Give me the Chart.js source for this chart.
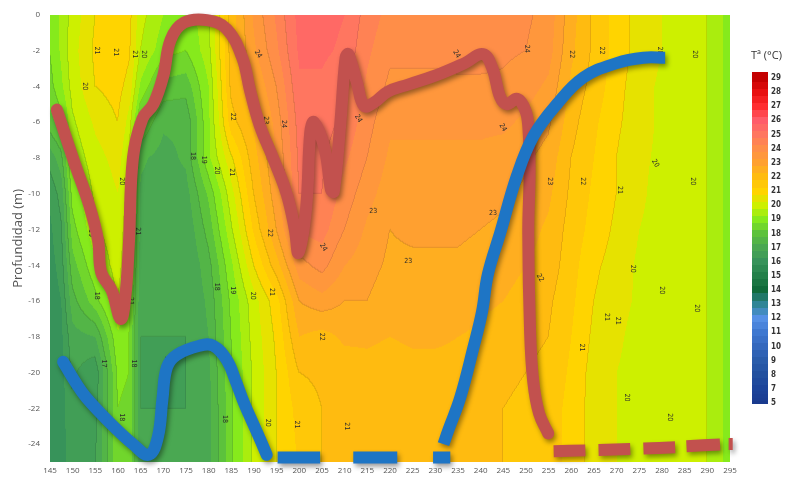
<!DOCTYPE html>
<html>
<head>
<meta charset="utf-8">
<script src="https://cdn.jsdelivr.net/npm/chart.js@4/dist/chart.umd.min.js"></script>
<style>
  html, body { margin: 0; padding: 0; background: #fff; }
  #c { display: block; }
</style>
</head>
<body>
<canvas id="c" width="789" height="480"></canvas>
<script>
// ---- Temperature section: sampling days (x) and depths (y) ----
const fieldDays = [145, 147.5, 150, 155, 160, 162.5, 165, 170, 175, 180, 185, 190, 195, 200, 205, 210,
                   215, 220, 225, 230, 235, 240, 245, 250, 255, 260, 265, 270, 275, 280, 285, 290, 292.5, 295];
const fieldDepths = [0, -2, -4, -6, -8, -10, -12, -14, -16, -18, -20, -22, -24];

// Temperature (°C) per sampling day, from surface (0 m) to -24 m
const temperatureByDay = [
  [19.0, 19.0, 18.8, 18.3, 17.2, 16.6, 16.4, 16.3, 16.2, 16.2, 16.1, 16.1, 16.1], // 145
  [19.6, 19.6, 19.4, 18.8, 17.8, 17.2, 16.9, 16.7, 16.5, 16.4, 16.3, 16.3, 16.3], // 147.5
  [20.2, 20.3, 20.2, 19.9, 19.6, 19.2, 18.8, 18.3, 17.8, 17.3, 17.1, 16.9, 16.8], // 150
  [21.0, 21.1, 21.0, 20.6, 20.3, 20.1, 19.9, 19.4, 18.8, 17.5, 16.6, 16.8, 16.9], // 155
  [21.3, 21.4, 21.2, 21.0, 20.7, 20.5, 20.4, 20.3, 20.0, 19.4, 19.1, 19.0, 18.9], // 160
  [21.2, 21.1, 20.8, 20.3, 20.0, 19.8, 19.6, 19.4, 19.2, 19.0, 19.0, 18.9, 18.9], // 162.5
  [20.2, 20.0, 19.4, 18.5, 17.6, 17.4, 17.3, 17.2, 17.1, 17.0, 17.0, 17.0, 17.0], // 165
  [19.5, 19.2, 18.3, 17.6, 17.3, 17.2, 17.1, 17.0, 17.0, 17.0, 16.6, 17.0, 17.0], // 170
  [19.2, 19.0, 18.2, 17.6, 17.6, 17.3, 17.1, 17.0, 17.0, 17.0, 17.0, 17.0, 17.0], // 175
  [19.9, 19.8, 19.5, 19.4, 19.4, 18.6, 18.2, 17.8, 17.6, 17.5, 17.4, 17.3, 17.3], // 180
  [22.2, 22.2, 22.1, 21.8, 20.9, 20.3, 19.9, 19.4, 19.1, 19.0, 18.9, 18.9, 18.9], // 185
  [23.6, 23.4, 23.0, 22.6, 22.3, 22.0, 21.6, 21.0, 20.3, 20.2, 20.1, 20.1, 20.1], // 190
  [24.6, 24.4, 24.0, 23.7, 23.5, 23.3, 23.0, 22.3, 21.3, 21.1, 21.0, 21.0, 21.0], // 195
  [25.7, 25.6, 25.4, 25.2, 25.1, 25.0, 24.6, 23.8, 23.0, 22.5, 22.0, 21.7, 21.6], // 200
  [25.7, 25.6, 25.4, 25.2, 25.1, 25.0, 24.7, 24.2, 23.3, 22.3, 22.1, 22.0, 22.0], // 205
  [25.5, 25.4, 25.1, 24.9, 24.6, 24.3, 24.0, 23.5, 23.0, 22.6, 22.2, 22.1, 22.0], // 210
  [24.8, 24.6, 24.4, 24.2, 24.0, 23.7, 23.4, 23.2, 23.0, 22.6, 22.3, 22.2, 22.1], // 215
  [24.3, 24.1, 23.9, 23.6, 23.4, 23.2, 23.0, 22.9, 22.7, 22.5, 22.2, 22.1, 22.1], // 220
  [24.2, 24.1, 23.9, 23.6, 23.4, 23.2, 23.1, 22.9, 22.8, 22.6, 22.3, 22.1, 22.1], // 225
  [24.3, 24.1, 23.9, 23.6, 23.4, 23.2, 23.1, 22.9, 22.8, 22.6, 22.3, 22.2, 22.1], // 230
  [24.3, 24.2, 23.9, 23.6, 23.4, 23.2, 23.1, 22.9, 22.8, 22.5, 22.3, 22.1, 22.1], // 235
  [24.3, 24.2, 23.9, 23.6, 23.4, 23.2, 23.0, 22.8, 22.6, 22.4, 22.2, 22.1, 22.0], // 240
  [24.2, 24.1, 23.9, 23.6, 23.3, 23.1, 22.9, 22.7, 22.5, 22.3, 22.1, 22.0, 22.0], // 245
  [24.1, 24.0, 23.7, 23.4, 23.1, 22.9, 22.7, 22.5, 22.3, 22.1, 22.0, 21.9, 21.9], // 250
  [23.8, 23.7, 23.4, 23.1, 22.8, 22.6, 22.4, 22.3, 22.1, 22.0, 21.9, 21.8, 21.8], // 255
  [22.7, 22.6, 22.4, 22.2, 22.0, 21.9, 21.8, 21.7, 21.6, 21.5, 21.4, 21.3, 21.3], // 260
  [21.9, 21.9, 21.8, 21.6, 21.5, 21.4, 21.3, 21.1, 21.0, 20.9, 20.8, 20.8, 20.8], // 265
  [21.3, 21.3, 21.2, 21.1, 21.0, 21.0, 20.9, 20.8, 20.7, 20.6, 20.5, 20.5, 20.5], // 270
  [20.8, 20.8, 20.7, 20.7, 20.6, 20.6, 20.5, 20.4, 20.4, 20.3, 20.3, 20.3, 20.3], // 275
  [20.5, 20.5, 20.4, 20.4, 20.4, 20.3, 20.3, 20.2, 20.2, 20.2, 20.2, 20.2, 20.2], // 280
  [20.3, 20.3, 20.2, 20.2, 20.2, 20.2, 20.1, 20.1, 20.1, 20.1, 20.1, 20.1, 20.1], // 285
  [20.0, 20.0, 20.0, 20.0, 20.0, 20.0, 20.0, 20.0, 20.0, 20.0, 20.0, 20.0, 20.0], // 290
  [19.8, 19.8, 19.8, 19.8, 19.8, 19.8, 19.8, 19.8, 19.8, 19.8, 19.8, 19.8, 19.8], // 292.5
  [19.0, 19.0, 19.0, 19.0, 19.0, 19.0, 19.0, 19.0, 19.0, 19.0, 19.0, 19.0, 19.0]  // 295
];

// ---- Axis ticks ----
const dayTicks = [145,150,155,160,165,170,175,180,185,190,195,200,205,210,215,220,225,230,235,240,
                  245,250,255,260,265,270,275,280,285,290,295];
const depthTicks = [0,-2,-4,-6,-8,-10,-12,-14,-16,-18,-20,-22,-24];

// ---- Colour scale levels (°C) ----
const scaleLevels = [29,28,27,26,25,24,23,22,21,20,19,18,17,16,15,14,13,12,11,10,9,8,7,5];

// ---- Red trace (day, depth) ----
const redTrace = [
  [146.5,-5.3],[150.3,-8.2],[153.6,-10.6],[155.6,-12.6],[156.3,-14.4],[158.6,-15.4],[160.6,-17.0],
  [161.6,-15.8],[162.4,-12.8],[163.3,-8.0],[165.4,-5.8],[167.8,-5.0],[170.0,-3.4],[171.6,-1.4],
  [174.5,-0.45],[179.6,-0.3],[184.0,-0.8],[187.4,-2.4],[189.2,-4.3],[191.3,-6.2],[194.2,-8.0],
  [197.2,-10.0],[199.0,-12.0],[199.8,-13.3],[201.5,-10.8],[202.4,-6.6],[203.2,-6.0],[205.6,-7.5],
  [207.0,-9.8],[207.6,-9.9],[209.0,-6.2],[210.2,-2.4],[210.8,-2.2],[212.7,-3.8],[214.3,-5.1],
  [216.5,-4.9],[219.5,-4.3],[224.0,-3.9],[231.0,-3.3],[236.5,-2.7],[240.5,-2.2],[242.6,-3.0],
  [244.3,-4.6],[245.8,-5.0],[248.0,-4.7],[249.8,-5.3],[250.5,-6.2],[250.8,-8.7],[250.5,-12.2],
  [250.9,-17.7],[251.6,-20.5],[252.9,-22.3],[254.9,-23.4]
];
// Red trace near the bottom (separate short segments)
const redBottom = [
  [[256.1,-24.4],[263.1,-24.35]],
  [[266.0,-24.33],[273.0,-24.28]],
  [[275.9,-24.25],[282.9,-24.18]],
  [[285.4,-24.12],[292.8,-24.02]],
  [[294.7,-24.0],[295.6,-24.0]]
];

// ---- Blue trace (day, depth) ----
const blueTraceA = [
  [147.9,-19.4],[150.5,-20.5],[153.0,-21.4],[158.2,-22.8],[163.3,-24.0],[166.8,-24.6],[168.8,-23.6],
  [169.8,-21.5],[170.8,-19.7],[173.0,-19.0],[178.0,-18.5],[181.0,-18.5],[184.0,-19.3],[186.0,-20.5],
  [187.8,-21.7],[190.6,-23.3],[192.8,-24.6]
];
const blueBottom = [
  [[195.2,-24.75],[204.6,-24.75]],
  [[211.9,-24.75],[221.6,-24.75]],
  [[229.5,-24.75],[233.3,-24.75]]
];
const blueTraceB = [
  [231.8,-24.0],[232.9,-23.2],[235.5,-21.4],[238.4,-18.6],[240.3,-16.6],[241.6,-14.5],[244.3,-12.2],
  [248.0,-9.0],[251.6,-6.8],[256.8,-5.0],[262.7,-3.5],[270.0,-2.7],[275.9,-2.4],[280.7,-2.4]
];

// ---- Isotherm labels: day, depth, text, angle (deg) ----
const isothermLabels = [
  [152.6,-4.0,'20',90],[155.3,-2.0,'21',90],[159.5,-2.1,'21',90],[163.6,-2.2,'21',90],[165.6,-2.2,'20',90],
  [160.8,-9.3,'20',90],[164.4,-12.1,'21',90],[154.0,-12.2,'19',90],
  [176.6,-7.9,'18',90],[179.0,-8.1,'19',90],[181.8,-8.7,'20',90],[185.1,-8.8,'21',90],
  [185.4,-5.7,'22',90],[192.6,-5.9,'23',90],[196.5,-6.1,'24',90],[190.9,-2.2,'24',60],
  [193.5,-12.2,'22',90],[213.0,-5.8,'24',60],[216.3,-11.0,'23',0],[205.3,-13.0,'24',60],
  [155.3,-15.7,'18',90],[162.8,-16.0,'21',90],[156.8,-19.5,'17',90],[163.4,-19.5,'18',90],
  [170.7,-19.3,'17',90],[160.8,-22.5,'18',90],
  [181.8,-15.2,'18',90],[185.4,-15.4,'19',90],[189.8,-15.7,'20',90],[193.9,-15.5,'21',90],
  [204.9,-18.0,'22',90],[183.6,-22.6,'18',90],[193.1,-22.8,'20',90],[199.4,-22.9,'21',90],[210.5,-23.0,'21',90],
  [224.0,-13.8,'23',0],[242.7,-11.1,'23',0],
  [234.7,-2.2,'24',60],[250.2,-1.9,'24',90],[260.2,-2.2,'22',90],[266.8,-2.0,'22',90],
  [279.6,-2.0,'20',90],[287.3,-2.2,'20',90],[244.9,-6.3,'24',60],
  [255.3,-9.3,'23',90],[262.6,-9.3,'22',90],[270.7,-9.8,'21',90],[278.5,-8.3,'20',60],[286.8,-9.3,'20',90],
  [253.1,-14.7,'22',60],[262.3,-18.6,'21',90],[267.8,-16.9,'21',90],[270.3,-17.1,'21',90],
  [273.6,-14.2,'20',90],[279.9,-15.4,'20',90],[287.7,-16.4,'20',90],[272.2,-21.4,'20',90],[281.8,-22.5,'20',90]
];

// ---- Colour ramp (°C -> colour) ----
const ramp = [
  [5,'#1a3a8e'],[7,'#1c449a'],[8,'#22509f'],[9,'#2a5caa'],[10,'#3468bd'],[11,'#3f78d0'],[12,'#5590e5'],
  [13,'#2f8596'],[14,'#106b3a'],[15,'#23804a'],[16,'#37935a'],[17,'#4aa852'],[18,'#5cc23c'],
  [19,'#86ea1c'],[20,'#cdf000'],[21,'#ffd400'],[22,'#ffbb10'],[23,'#ffa030'],[24,'#ff8e48'],
  [25,'#ff7660'],[26,'#ff5c6a'],[27,'#ff2e30'],[28,'#e81010'],[29,'#c40000']
];
function hexRgb(h) { return [parseInt(h.slice(1,3),16), parseInt(h.slice(3,5),16), parseInt(h.slice(5,7),16)]; }
const rampRgb = ramp.map(([v, h]) => [v, hexRgb(h)]);
function rampColor(v) {
  if (v <= rampRgb[0][0]) return rampRgb[0][1];
  const last = rampRgb[rampRgb.length - 1];
  if (v >= last[0]) return last[1];
  for (let k = 0; k < rampRgb.length - 1; k++) {
    const [v0, c0] = rampRgb[k], [v1, c1] = rampRgb[k + 1];
    if (v >= v0 && v <= v1) {
      const f = (v - v0) / (v1 - v0);
      return [0,1,2].map(n => Math.round(c0[n] + (c1[n] - c0[n]) * f));
    }
  }
  return last[1];
}
// filled-contour colour: half-degree bands
function bandColor(t) { return rampColor(Math.floor(t * 2) / 2); }

function fieldValue(day, depth) {
  let i = 0;
  while (i < fieldDays.length - 2 && day > fieldDays[i + 1]) i++;
  let fx = (day - fieldDays[i]) / (fieldDays[i + 1] - fieldDays[i]);
  fx = Math.max(0, Math.min(1, fx));
  let j = 0;
  while (j < fieldDepths.length - 2 && depth < fieldDepths[j + 1]) j++;
  let fy = (depth - fieldDepths[j]) / (fieldDepths[j + 1] - fieldDepths[j]);
  fy = Math.max(0, Math.min(1, fy));
  const a = temperatureByDay[i][j], b = temperatureByDay[i + 1][j];
  const c = temperatureByDay[i][j + 1], e = temperatureByDay[i + 1][j + 1];
  return a * (1 - fx) * (1 - fy) + b * fx * (1 - fy) + c * (1 - fx) * fy + e * fx * fy;
}

// Filled isotherm section behind the traces
const sectionPlugin = {
  id: 'section',
  beforeDatasetsDraw(chart) {
    const { ctx, chartArea: area, scales: { x, y } } = chart;
    const w = Math.round(area.right - area.left), h = Math.round(area.bottom - area.top);
    const T = new Float32Array(w * h);
    for (let j = 0; j < h; j++) {
      const depth = y.getValueForPixel(area.top + j + 0.5);
      for (let i = 0; i < w; i++) {
        T[j * w + i] = fieldValue(x.getValueForPixel(area.left + i + 0.5), depth);
      }
    }
    const off = document.createElement('canvas');
    off.width = w; off.height = h;
    const octx = off.getContext('2d');
    const img = octx.createImageData(w, h);
    for (let j = 0; j < h; j++) {
      for (let i = 0; i < w; i++) {
        const k = j * w + i, t = T[k];
        const col = bandColor(t);
        const b = Math.floor(t);
        let edge = false;
        if (i < w - 1 && Math.floor(T[k + 1]) !== b) edge = true;
        if (j < h - 1 && Math.floor(T[k + w]) !== b) edge = true;
        const f = edge ? 0.9 : 1;
        img.data[k * 4] = col[0] * f;
        img.data[k * 4 + 1] = col[1] * f;
        img.data[k * 4 + 2] = col[2] * f;
        img.data[k * 4 + 3] = 255;
      }
    }
    octx.putImageData(img, 0, 0);
    ctx.save();
    ctx.filter = 'blur(0.7px)';
    ctx.drawImage(off, area.left, area.top);
    ctx.restore();

    // isotherm labels
    ctx.save();
    ctx.fillStyle = '#2b2b2b';
    ctx.font = '7px "DejaVu Sans Condensed", "DejaVu Sans", sans-serif';
    ctx.textAlign = 'center';
    ctx.textBaseline = 'middle';
    isothermLabels.forEach(([d, z, txt, ang]) => {
      ctx.save();
      ctx.translate(x.getPixelForValue(d), y.getPixelForValue(z));
      ctx.rotate(ang * Math.PI / 180);
      ctx.fillText(txt, 0, 0);
      ctx.restore();
    });
    ctx.restore();
  }
};

// Soft drop shadow under the traces
const shadowPlugin = {
  id: 'traceShadow',
  beforeDatasetDraw(chart) {
    const c = chart.ctx;
    c.save();
    c.shadowColor = 'rgba(0,0,0,0.4)';
    c.shadowBlur = 5;
    c.shadowOffsetX = 2;
    c.shadowOffsetY = 3;
  },
  afterDatasetDraw(chart) { chart.ctx.restore(); }
};

// Colour bar with its title
const colorbarPlugin = {
  id: 'colorbar',
  afterDraw(chart) {
    const { ctx, chartArea: area } = chart;
    const x0 = area.right + 22, barW = 16;
    const firstY = 78, step = 14.13;
    const top = 72, bottom = 404;
    const valueAt = (py) => {
      const p = (py - firstY) / step;
      const n = scaleLevels.length;
      if (p <= 0) return scaleLevels[0] - p;
      if (p >= n - 1) return scaleLevels[n - 1] - (p - (n - 1)) * 2;
      const k = Math.floor(p), f = p - k;
      return scaleLevels[k] + (scaleLevels[k + 1] - scaleLevels[k]) * f;
    };
    for (let py = top; py < bottom; py++) {
      const c = bandColor(valueAt(py + 0.5) + 0.25);
      ctx.fillStyle = `rgb(${c[0]},${c[1]},${c[2]})`;
      ctx.fillRect(x0, py, barW, 1);
    }
    ctx.save();
    ctx.fillStyle = '#333';
    ctx.font = 'bold 8px "DejaVu Sans Condensed", "DejaVu Sans", sans-serif';
    ctx.textAlign = 'left';
    ctx.textBaseline = 'middle';
    scaleLevels.forEach((v, k) => ctx.fillText(String(v), x0 + barW + 3, firstY + k * step));
    ctx.font = '11px "Open Sans", sans-serif';
    ctx.fillStyle = '#333';
    ctx.fillText('Tª (°C)', x0 - 1, 56);
    ctx.restore();
  }
};

const pts = arr => arr.map(([x, y]) => ({ x, y }));
const trace = (arr, color, cap) => ({
  data: pts(arr), showLine: true, borderColor: color, backgroundColor: color,
  borderWidth: 12, pointRadius: 0, pointHoverRadius: 0, tension: 0.4,
  borderCapStyle: cap, borderJoinStyle: 'round', fill: false, clip: 10
});
const RED = '#c2514e', BLUE = '#1e75c5';
const datasets = [
  trace(blueTraceA, BLUE, 'round'),
  ...blueBottom.map(s => trace(s, BLUE, 'butt')),
  trace(blueTraceB, BLUE, 'butt'),
  trace(redTrace, RED, 'round'),
  ...redBottom.map(s => trace(s, RED, 'butt'))
];

new Chart(document.getElementById('c'), {
  type: 'scatter',
  data: { datasets },
  options: {
    responsive: false,
    animation: false,
    devicePixelRatio: 1,
    layout: { padding: { top: 10, right: 59, left: 0, bottom: 0 } },
    plugins: { legend: { display: false }, tooltip: { enabled: false } },
    scales: {
      x: {
        type: 'linear', min: 145, max: 295,
        afterBuildTicks: s => { s.ticks = dayTicks.map(v => ({ value: v })); },
        ticks: { autoSkip: false, maxRotation: 0, color: '#555', padding: 4,
                 font: { size: 8, family: '"Open Sans", sans-serif' } },
        grid: { display: false, drawTicks: false },
        border: { display: false },
        afterFit: s => { s.height = 18; }
      },
      y: {
        type: 'linear', min: -25, max: 0,
        afterBuildTicks: s => { s.ticks = depthTicks.map(v => ({ value: v })); },
        ticks: { color: '#555', padding: 10, font: { size: 8, family: '"Open Sans", sans-serif' } },
        grid: { display: false, drawTicks: false },
        border: { display: false },
        title: { display: true, text: 'Profundidad (m)', color: '#555',
                 font: { size: 13, family: '"Open Sans", sans-serif' }, padding: { top: 10, bottom: 0 } },
        afterFit: s => { s.width = 50; }
      }
    }
  },
  plugins: [sectionPlugin, shadowPlugin, colorbarPlugin]
});
</script>
</body>
</html>
